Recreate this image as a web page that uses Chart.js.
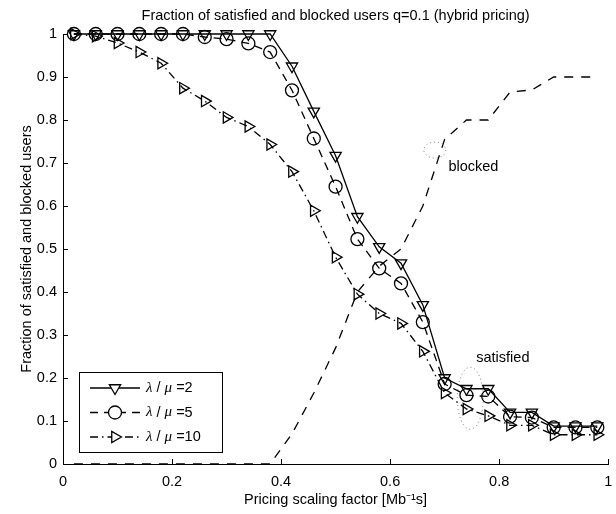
<!DOCTYPE html>
<html>
<head>
<meta charset="utf-8">
<title>Fraction of satisfied and blocked users</title>
<script src="https://cdn.jsdelivr.net/npm/chart.js@4.4.1/dist/chart.umd.min.js"></script>
<style>
    body { margin: 0; background: #fff; }
    canvas { display: block; }
</style>
</head>
<body>
<canvas id="fracCanvas" width="616" height="514"></canvas>
<script>
// pricing scaling factor samples
const scaleFactor = [0.02, 0.06, 0.10, 0.14, 0.18, 0.22, 0.26, 0.30, 0.34, 0.38, 0.42, 0.46, 0.50,
                     0.54, 0.58, 0.62, 0.66, 0.70, 0.74, 0.78, 0.82, 0.86, 0.90, 0.94, 0.98];

// satisfied users for each load
const satisfiedLoad2  = [1, 1, 1, 1, 1, 1, 1, 1, 1, 1, 0.925, 0.82, 0.717,
                         0.575, 0.505, 0.467, 0.37, 0.2, 0.175, 0.175, 0.12, 0.12, 0.088, 0.088, 0.088];
const satisfiedLoad5  = [1, 1, 1, 1, 1, 1, 0.993, 0.988, 0.978, 0.958, 0.869, 0.757, 0.645,
                         0.523, 0.455, 0.42, 0.33, 0.186, 0.16, 0.157, 0.11, 0.108, 0.085, 0.085, 0.085];
const satisfiedLoad10 = [1, 0.995, 0.979, 0.958, 0.932, 0.874, 0.844, 0.806, 0.785, 0.743, 0.68, 0.589, 0.481,
                         0.395, 0.35, 0.327, 0.262, 0.165, 0.128, 0.112, 0.09, 0.09, 0.068, 0.068, 0.068];

// blocked users
const blockedUsers = [0, 0, 0, 0, 0, 0, 0, 0, 0, 0, 0.07, 0.165, 0.27,
                      0.40, 0.46, 0.50, 0.60, 0.755, 0.80, 0.80, 0.865, 0.87, 0.90, 0.90, 0.90];

const loadLabels = ["λ / μ =2", "λ / μ =5", "λ / μ =10"];
const xTicks = [0, 0.2, 0.4, 0.6, 0.8, 1];
const yTicks = [0, 0.1, 0.2, 0.3, 0.4, 0.5, 0.6, 0.7, 0.8, 0.9, 1];
const chartTitle = "Fraction of satisfied and blocked users q=0.1 (hybrid pricing)";

const FONT = "'Liberation Sans', Arial, Helvetica, sans-serif";
const LW = 1.3;

function toPoints(values){
    return values.map((v, i) => ({x: scaleFactor[i], y: v}));
}

function series(label, values, dash, style, rotation){
    return {
        label: label,
        data: toPoints(values),
        borderColor: "#000",
        borderWidth: LW,
        borderDash: dash,
        pointStyle: style,
        rotation: rotation,
        pointRadius: style ? 6.5 : 0,
        pointBorderWidth: LW,
        pointBorderColor: "#000",
        pointBackgroundColor: "rgba(0,0,0,0)",
        tension: 0,
        fill: false,
        clip: false
    };
}

// title centred over the plot area
const plotTitle = {
    id: "plotTitle",
    afterDraw(chart){
        const ctx = chart.ctx;
        const area = chart.chartArea;
        ctx.save();
        ctx.fillStyle = "#000";
        ctx.font = "14.5px " + FONT;
        ctx.textAlign = "center";
        ctx.textBaseline = "middle";
        ctx.fillText(chartTitle, (area.left + area.right) / 2, 16);
        ctx.restore();
    }
};

// MATLAB style ticks pointing into the plot
const innerTicks = {
    id: "innerTicks",
    afterDraw(chart){
        const ctx = chart.ctx;
        const area = chart.chartArea;
        const xs = chart.scales.x, ys = chart.scales.y;
        ctx.save();
        ctx.strokeStyle = "#000";
        ctx.lineWidth = 1;
        ctx.beginPath();
        xTicks.forEach(t => {
            const px = Math.round(xs.getPixelForValue(t)) + 0.5;
            ctx.moveTo(px, area.bottom);
            ctx.lineTo(px, area.bottom - 5);
        });
        yTicks.forEach(t => {
            const py = Math.round(ys.getPixelForValue(t)) + 0.5;
            ctx.moveTo(area.left, py);
            ctx.lineTo(area.left + 5, py);
        });
        ctx.stroke();
        ctx.restore();
    }
};

// text labels with dotted rings
const notes = [
    {text: "blocked",   tx: 0.707, ty: 0.69,  cx: 0.682, cy: 0.73,  rx: 11, ry: 8},
    {text: "satisfied", tx: 0.758, ty: 0.246, cx: 0.747, cy: 0.153, rx: 13, ry: 31}
];

const noteLabels = {
    id: "noteLabels",
    afterDatasetsDraw(chart){
        const ctx = chart.ctx;
        const xs = chart.scales.x, ys = chart.scales.y;
        ctx.save();
        notes.forEach(n => {
            ctx.strokeStyle = "#777";
            ctx.lineWidth = 1;
            ctx.setLineDash([1, 3]);
            ctx.beginPath();
            ctx.ellipse(xs.getPixelForValue(n.cx), ys.getPixelForValue(n.cy), n.rx, n.ry, 0, 0, Math.PI * 2);
            ctx.stroke();
            ctx.setLineDash([]);
            ctx.fillStyle = "#000";
            ctx.font = "14.5px " + FONT;
            ctx.textBaseline = "middle";
            ctx.textAlign = "left";
            ctx.fillText(n.text, xs.getPixelForValue(n.tx), ys.getPixelForValue(n.ty));
        });
        ctx.restore();
    }
};

// boxed legend with line samples, greek letters in italic serif
const boxLegend = {
    id: "boxLegend",
    afterDraw(chart){
        const ctx = chart.ctx;
        const box = {x: 79.5, y: 372.5, w: 143, h: 80};
        ctx.save();
        ctx.fillStyle = "#fff";
        ctx.fillRect(box.x, box.y, box.w, box.h);
        ctx.strokeStyle = "#000";
        ctx.lineWidth = 1;
        ctx.strokeRect(box.x, box.y, box.w, box.h);

        chart.data.datasets.slice(0, 3).forEach((ds, i) => {
            const y = 388 + i * 24.5;
            ctx.strokeStyle = "#000";
            ctx.lineWidth = LW;
            ctx.setLineDash(ds.borderDash || []);
            ctx.beginPath();
            ctx.moveTo(90, y);
            ctx.lineTo(140, y);
            ctx.stroke();
            ctx.setLineDash([]);
            ctx.fillStyle = "#fff";
            Chart.helpers.drawPoint(ctx, {
                pointStyle: ds.pointStyle,
                rotation: ds.rotation,
                radius: 6.5,
                borderWidth: LW
            }, 115, y);

            let tx = 146;
            ctx.fillStyle = "#000";
            ctx.textBaseline = "middle";
            ctx.textAlign = "left";
            for (const ch of ds.label){
                const greek = ch === "λ" || ch === "μ";
                ctx.font = greek ? "italic 15px 'Liberation Serif', 'Times New Roman', serif" : "14.5px " + FONT;
                ctx.fillText(ch, tx, y);
                tx += ctx.measureText(ch).width;
            }
        });
        ctx.restore();
    }
};

new Chart(document.getElementById("fracCanvas"), {
    type: "line",
    data: {
        datasets: [
            series(loadLabels[0], satisfiedLoad2, [], "triangle", 180),
            series(loadLabels[1], satisfiedLoad5, [8, 6], "circle", 0),
            series(loadLabels[2], satisfiedLoad10, [8, 4, 1.5, 4], "triangle", 90),
            series("blocked", blockedUsers, [9, 8], false, 0)
        ]
    },
    options: {
        responsive: false,
        animation: false,
        devicePixelRatio: 1,
        layout: {padding: {right: 3, left: 0, top: 34, bottom: 0}},
        plugins: {
            legend: {display: false},
            tooltip: {enabled: false},
            title: {display: false}
        },
        scales: {
            x: {
                type: "linear",
                min: 0,
                max: 1,
                afterBuildTicks: (scale) => { scale.ticks = xTicks.map(v => ({value: v})); },
                afterFit: (scale) => { scale.height = 50; scale.paddingLeft = 0; scale.paddingRight = 0; },
                grid: {display: false, drawTicks: false},
                border: {display: true, color: "#000", width: 1},
                ticks: {
                    color: "#000",
                    font: {family: FONT, size: 14.5},
                    padding: 9,
                    maxRotation: 0,
                    callback: (v) => String(+v.toFixed(1))
                },
                title: {
                    display: true,
                    text: "Pricing scaling factor [Mb⁻¹s]",
                    color: "#000",
                    font: {family: FONT, size: 14.5},
                    padding: {top: 0, bottom: 5}
                }
            },
            y: {
                type: "linear",
                min: 0,
                max: 1,
                afterBuildTicks: (scale) => { scale.ticks = yTicks.map(v => ({value: v})); },
                afterFit: (scale) => { scale.width = 63; scale.paddingTop = 0; scale.paddingBottom = 0; },
                grid: {display: false, drawTicks: false},
                border: {display: true, color: "#000", width: 1},
                ticks: {
                    color: "#000",
                    font: {family: FONT, size: 14.5},
                    padding: 6,
                    callback: (v) => String(+v.toFixed(1))
                },
                title: {
                    display: true,
                    text: "Fraction of satisfied and blocked users",
                    color: "#000",
                    font: {family: FONT, size: 14.5},
                    padding: {top: 18, bottom: 0}
                }
            }
        }
    },
    plugins: [innerTicks, noteLabels, boxLegend, plotTitle]
});
</script>
</body>
</html>
